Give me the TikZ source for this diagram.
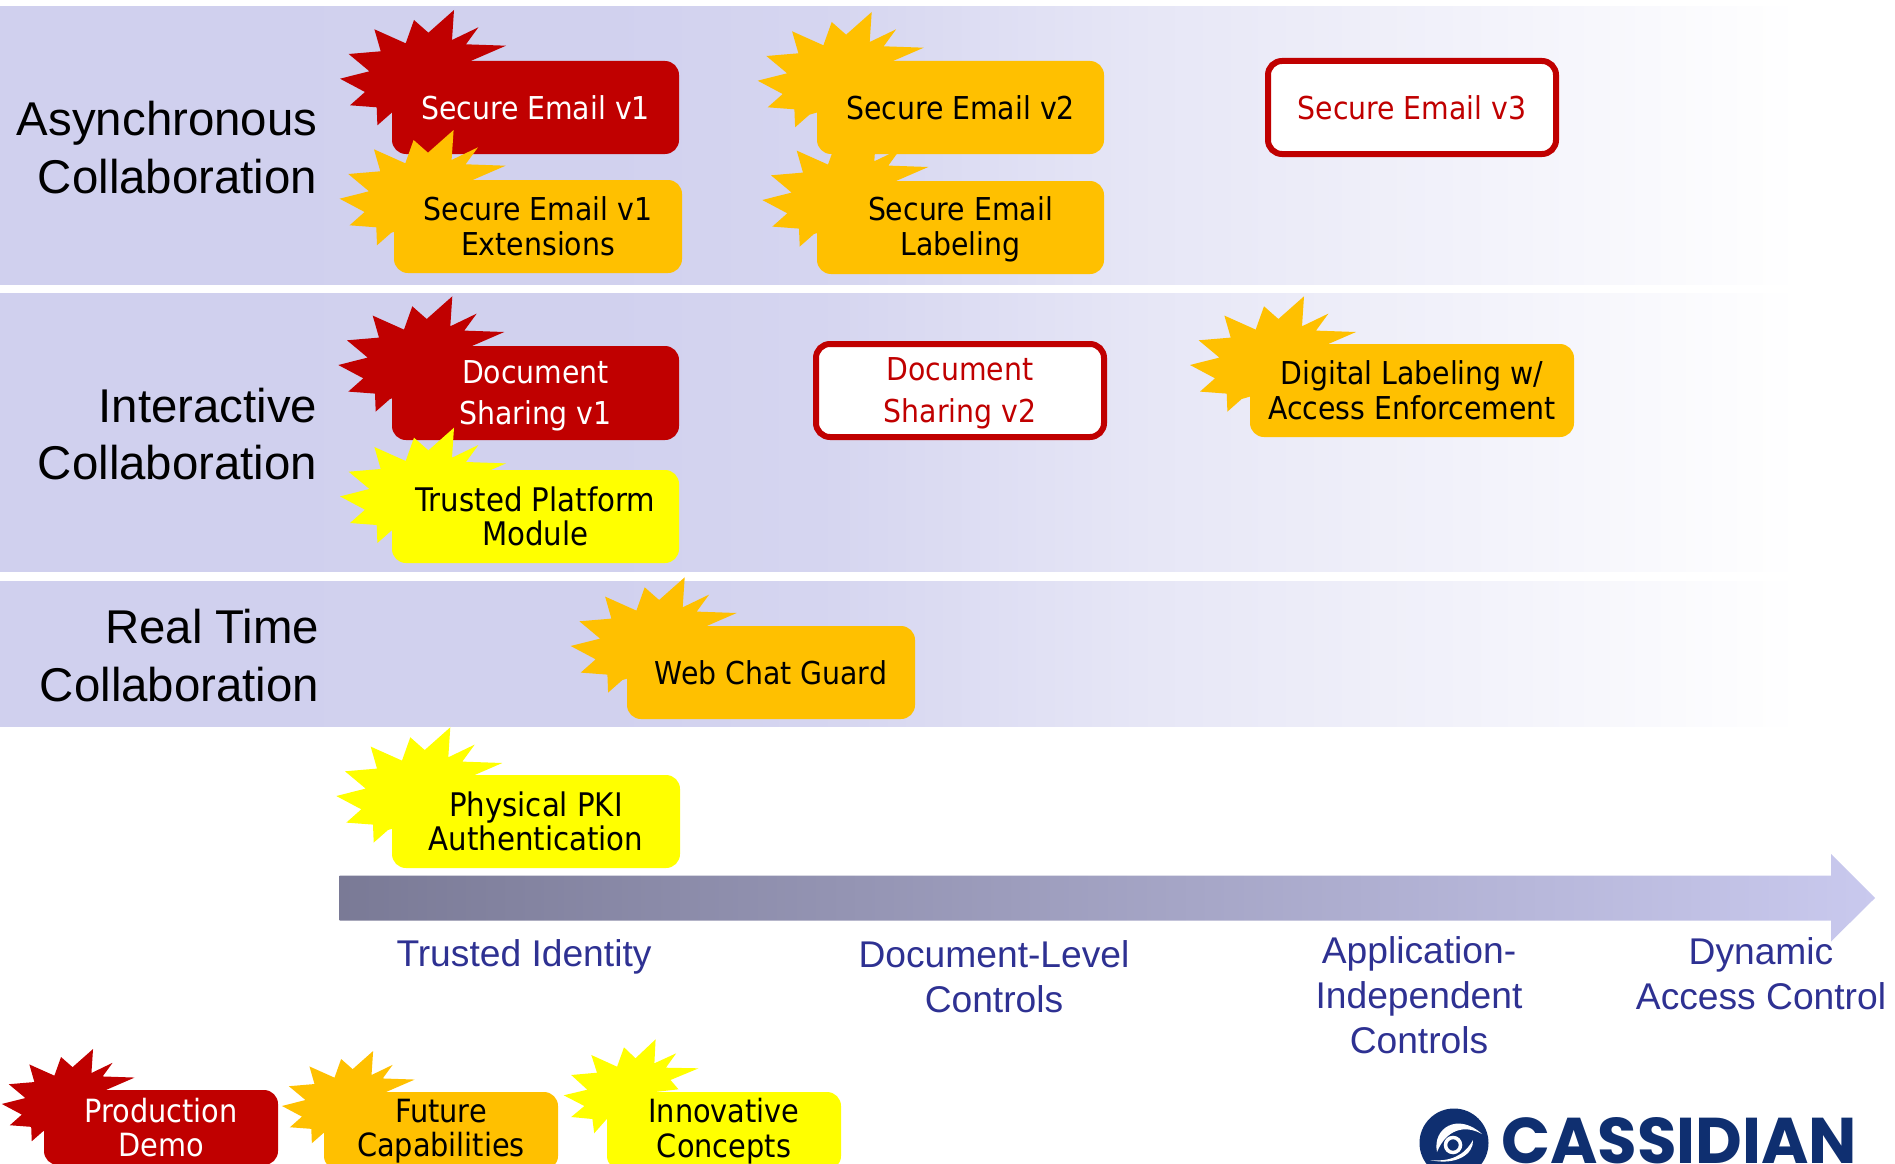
\documentclass[tikz,border=0pt]{standalone}
\usepackage{fontspec}
\usepackage{graphicx}
\setmainfont{Liberation Sans}
\newfontfamily\boxfont{DejaVu Sans Condensed}
\newfontfamily\logofont{Poppins}
\definecolor{bandc}{HTML}{D0D0EE}
\definecolor{bredc}{HTML}{C00000}
\definecolor{amberc}{HTML}{FFC000}
\definecolor{yelc}{HTML}{FFFF00}
\definecolor{bluec}{HTML}{2E3192}
\definecolor{navyc}{HTML}{0F2F70}
\definecolor{arrowa}{HTML}{7A7A96}
\definecolor{arrowb}{HTML}{C9C9EE}
\pgfdeclarehorizontalshading{bandfade}{100bp}{color(0bp)=(bandc);color(25bp)=(bandc);color(41bp)=(bandc!98!white);color(47bp)=(bandc!88!white);color(55.3bp)=(bandc!52!white);color(64.6bp)=(bandc!25!white);color(72.5bp)=(white);color(100bp)=(white)}
\tikzset{
  band/.style={shading=bandfade,draw=none},
  rowlabel/.style={font=\fontsize{47.4}{57.5}\selectfont,align=right,anchor=east,inner sep=0pt},
  axislabel/.style={font=\fontsize{37.2}{45}\selectfont,text=bluec,align=center,inner sep=0pt},
  boxbase/.style={rounded corners=14pt,inner sep=0pt,align=center,font=\boxfont\fontsize{31.5}{35}\selectfont},
  redbox/.style={boxbase,fill=bredc,text=white},
  amberbox/.style={boxbase,fill=amberc,text=black},
  yelbox/.style={boxbase,fill=yelc,text=black},
  whitebox/.style={boxbase,fill=white,draw=bredc,line width=6pt,text=bredc},
  loose/.style={font=\boxfont\fontsize{31.5}{41.5}\selectfont},
  wider/.style={font=\boxfont\fontsize{32.5}{34.5}\selectfont},
  legendtext/.style={font=\boxfont\fontsize{32}{34.5}\selectfont},
}
% burst: colour, origin x, origin y, scale
\newcommand{\burstshape}[4]{\fill[#1,shift={(#2,#3)},scale=#4]
  (62.3,-51)--(60.3,-21)--(86.7,-33.7)--(74.3,-16.7)--(114.3,-15.3)--(79,0)--(40,40)--(0,51.7)--(-14.3,64.3)--(-15,46.3)--(-41.7,44.3)--(-26.7,31)--(-51.7,17.7)--(-22.3,10.3)--(-43,-7)--(-11,-9.7)--(-17.3,-31.7)--(14,-17.7)--(22.3,-41)--(36.7,-28.3)--cycle;}
% box: name, x1, y1, x2, y2, style, text
\newcommand{\flatbox}[7]{\node[#6,minimum width={#4pt-#2pt},minimum height={#5pt-#3pt}] (#1) at ({(#2+#4)/2},{(#3+#5)/2}) {#7};}
\newcommand{\downstrut}{\rule{0pt}{28.5pt}}
\begin{document}
\begin{tikzpicture}[x=1pt,y=-1pt]
\useasboundingbox (0,0) rectangle (1895,1164);
\clip (0,0) rectangle (1895,1164);
% bands
\path[band] (0,7) rectangle (1895,284);
\path[band] (0,293) rectangle (1895,571.5);
\path[band] (0,581) rectangle (1895,726.5);
% row labels
\node[rowlabel] (rowa) at (317.5,147.5) {Asynchronous\\Collaboration};
\node[rowlabel] (rowb) at (317.5,434) {Interactive\\Collaboration};
\node[rowlabel] (rowc) at (319.5,655.5) {Real Time\\Collaboration};
% row 1
\burstshape{bredc}{391.7}{61}{1}
\flatbox{se1}{392}{61}{679}{154}{redbox}{Secure Email v1}
\burstshape{amberc}{391.3}{181}{1}
\flatbox{se1x}{394}{180}{682}{273}{amberbox}{Secure Email v1\\Extensions}
\burstshape{amberc}{809.4}{63}{1}
\flatbox{se2}{817}{61}{1104}{154}{amberbox}{Secure Email v2}
\burstshape{amberc}{814}{182.3}{1}
\flatbox{sel}{817}{181}{1104}{274}{amberbox}{\downstrut Secure Email\\Labeling}
\flatbox{se3}{1268}{61}{1556}{154}{whitebox}{Secure Email v3}
% row 2
\burstshape{bredc}{390}{347.3}{1}
\flatbox{ds1}{392}{346}{679}{440}{redbox,loose}{\downstrut Document\\Sharing v1}
\burstshape{yelc}{391.7}{478.7}{1}
\flatbox{tpm}{392}{470}{679}{563}{yelbox,wider}{Trusted Platform\\Module}
\flatbox{ds2}{816}{344}{1104}{437}{whitebox,loose}{\downstrut Document\\Sharing v2}
\burstshape{amberc}{1241.7}{347.3}{1}
\flatbox{dig}{1250}{344}{1574}{437}{amberbox}{Digital Labeling w/\\Access Enforcement}
% row 3
\burstshape{amberc}{622.4}{628.3}{1}
\flatbox{web}{627}{626}{915}{719}{amberbox}{Web Chat Guard}
% PKI
\burstshape{yelc}{388}{778.3}{1}
\flatbox{pki}{392}{775}{680}{868}{yelbox,wider}{Physical PKI\\Authentication}
% arrow
\shade[left color=arrowa,right color=arrowb] (339.5,875.5)--(1831,875.5)--(1831,854)--(1875,898)--(1831,941.5)--(1831,920.5)--(339.5,920.5)--cycle;
% axis labels
\node[axislabel] (axa) at (524,957) {Trusted Identity};
\node[axislabel] (axb) at (994,977) {Document-Level\\Controls};
\node[axislabel] (axc) at (1419,995) {Application-\\Independent\\Controls};
\node[axislabel] (axd) at (1761,974) {Dynamic\\Access Control};
% legend
\burstshape{bredc}{43.2}{1089.8}{0.8}
\flatbox{lega}{44}{1090}{278}{1165}{redbox,legendtext}{Production\\Demo}
\burstshape{amberc}{323.3}{1091.8}{0.8}
\flatbox{legb}{324}{1092}{558}{1170}{amberbox,legendtext}{Future\\Capabilities}
\fill[yelc] (655.6,1039.3)--(654.4,1063.3)--(676.2,1053.3)--(665.9,1067.7)--(698.6,1068.3)--(670.5,1080)--(678.5,1089.3)--(657.3,1091.7)--(607.4,1118.3)--(594.2,1133.3)--(592.4,1119)--(571.2,1117)--(584.4,1106)--(563.7,1095.3)--(587.3,1089.7)--(571.2,1075)--(597,1072.7)--(591.3,1055)--(617.1,1066.7)--(624,1047.3)--(635.5,1058.3)--cycle;
\flatbox{legc}{607}{1092}{841}{1170}{yelbox,legendtext}{Innovative\\Concepts}
% logo
\fill[navyc] (1454,1143) circle (34.5);
\fill[white] (1437,1152) .. controls (1432,1128) and (1458,1112) .. (1482,1134) .. controls (1464,1124) and (1446,1130) .. (1437,1152) -- cycle;
\fill[white] (1473,1140) .. controls (1474,1154) and (1456,1166) .. (1430,1160) .. controls (1450,1162) and (1464,1156) .. (1473,1140) -- cycle;
\draw[white,line width=3.5pt] (1453,1145) circle (7.5);
\node[inner sep=0pt,anchor=base west,text=navyc] (logo) at (1501,1163) {\resizebox{356pt}{46pt}{\logofont\bfseries CASSIDIAN}};
\end{tikzpicture}
\end{document}
